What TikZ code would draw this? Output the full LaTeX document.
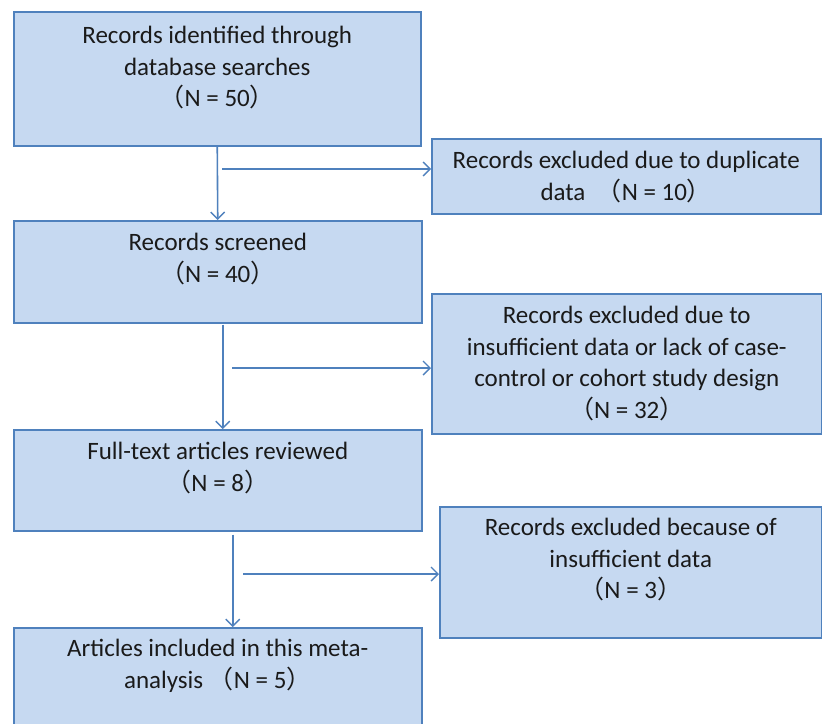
\documentclass[tikz,border=0pt]{standalone}
\usepackage{fontspec}
\setmainfont{Carlito}
\newfontfamily\cjk{Noto Sans CJK SC}
\usetikzlibrary{arrows.meta,calc}
\definecolor{boxfill}{HTML}{C6D9F1}
\definecolor{boxline}{HTML}{4F81BD}
\definecolor{txtc}{HTML}{1A1A1A}
\newcommand{\lp}{{\cjk（}}
\newcommand{\rp}{{\cjk）}}
\tikzset{
  box/.style={draw=boxline, fill=boxfill, line width=1.5pt, inner sep=0pt, anchor=north west},
  txt/.style={anchor=north, align=center, inner sep=0pt, text=txtc, font=\fontsize{25}{31.7}\selectfont},
  arr/.style={draw=boxline, line width=1.6pt, -{Straight Barb[length=7pt,width=14pt,line width=1.4pt]}}
}
\begin{document}
\begin{tikzpicture}[x=1pt,y=-1pt]
\clip (0,0) rectangle (822,723);
\fill[white] (0,0) rectangle (822,723);
% boxes
\node[box, minimum width=407pt, minimum height=134pt] (b1) at (13,11) {};
\node[box, minimum width=389pt, minimum height=75pt] (b2) at (431,138) {};
\node[box, minimum width=408pt, minimum height=102pt] (b3) at (13,220) {};
\node[box, minimum width=390pt, minimum height=140pt] (b4) at (431,293) {};
\node[box, minimum width=408pt, minimum height=101pt] (b5) at (13,429) {};
\node[box, minimum width=382pt, minimum height=131pt] (b6) at (439,506) {};
\node[box, minimum width=408pt, minimum height=130pt] (b7) at (13,627) {};
% texts
\node[txt] (t1) at ([yshift=-15pt]b1.north) {Records identified through\\database searches\\\lp N = 50\rp};
\node[txt] (t2) at ([yshift=-13pt]b2.north) {Records excluded due to duplicate\\data \ \lp N = 10\rp};
\node[txt] (t3) at ([yshift=-13pt]b3.north) {Records screened\\\lp N = 40\rp};
\node[txt] (t4) at ([yshift=-13pt]b4.north) {Records excluded due to\\insufficient data or lack of case-\\control or cohort study design\\\lp N = 32\rp};
\node[txt] (t5) at ([yshift=-13pt]b5.north) {Full-text articles reviewed\\\lp N = 8\rp};
\node[txt] (t6) at ([yshift=-12pt]b6.north) {Records excluded because of\\insufficient data\\\lp N = 3\rp};
\node[txt] (t7) at ([yshift=-12pt]b7.north) {Articles included in this meta-\\analysis \lp N = 5\rp};
% vertical arrows
\draw[arr] ([xshift=0pt]b1.south) -- ([xshift=0pt]b3.north);
\draw[arr] ([xshift=5pt,yshift=-1pt]b3.south) -- ([xshift=5pt]b5.north);
\draw[arr] ([xshift=15pt,yshift=-3pt]b5.south) -- ([xshift=15pt]b7.north);
% horizontal arrows
\coordinate (h1) at (222,169);
\coordinate (h2) at (232,368);
\coordinate (h3) at (243,574);
\draw[arr] (h1) -- (h1 -| b2.west);
\draw[arr] (h2) -- (h2 -| b4.west);
\draw[arr] (h3) -- (h3 -| b6.west);
\end{tikzpicture}
\end{document}
